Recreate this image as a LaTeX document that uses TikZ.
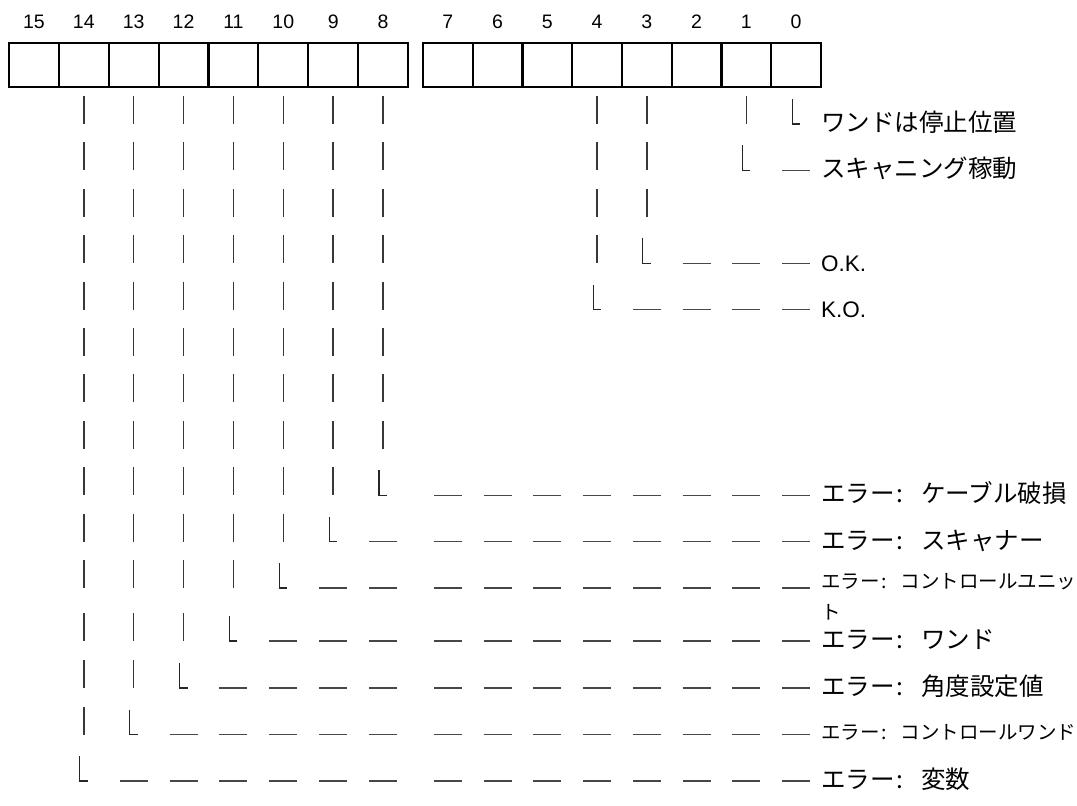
\documentclass[tikz,border=0pt]{standalone}
\usepackage{fontspec}
\setmainfont{Liberation Sans}
\newfontfamily\jp{Noto Sans CJK JP}
\pgfmathdeclarefunction{colx}{1}{%
  \pgfmathparse{(#1>7)*(9+49.875*(15.5-#1)) + (#1<8)*(423+49.75*(7.5-#1))}}
\newcommand{\tickrow}[2]{%
  \foreach \b in {#2}{\pgfmathsetmacro\xx{colx(\b)}\draw[tk] (\xx,#1-28) -- (\xx,#1);}}
\newcommand{\elbow}[2]{%
  \pgfmathsetmacro\xx{colx(#2)}\draw[lk] (\xx-4,#1-25) -- (\xx-4,#1) -- (\xx+4,#1);}
\newcommand{\dashrow}[2]{%
  \foreach \b in {#2}{\pgfmathsetmacro\xx{colx(\b)}\draw[dk] (\xx-14,#1) -- (\xx+14,#1);}}
\newcommand{\err}{エラー\kern0.08em:\kern0.72em}
\begin{document}
\begin{tikzpicture}[x=1pt,y=-1pt,
  cell/.style={draw=black,line width=2pt,minimum width=49.8pt,minimum height=44pt,inner sep=0pt,outer sep=0pt},
  num/.style={font=\fontsize{19.5}{22}\selectfont,inner sep=0pt,anchor=base},
  tk/.style={line width=1.4pt,draw=black!78},
  lk/.style={line width=1.2pt,draw=black!85},
  dk/.style={line width=1.4pt,draw=black!72},
  lab/.style={font=\jp\fontsize{24.5}{28}\selectfont,inner sep=0pt,anchor=base west},
  labs/.style={font=\jp\fontsize{19.5}{22}\selectfont,inner sep=0pt,anchor=base west},
  labl/.style={font=\fontsize{22.5}{26}\selectfont,inner sep=0pt,anchor=base west}]
\useasboundingbox (0,0) rectangle (1077,806);
% register cells and bit numbers
\foreach \b in {15,14,...,0}{
  \pgfmathsetmacro\xx{colx(\b)}
  \node[cell] (c\b) at (\xx,65.3) {};
  \node[num] (n\b) at (\xx,28.5) {\b};
}
% row 1
\tickrow{124}{14,13,...,8,4,3,1}\elbow{124}{0}
\node[lab] (l1) at (821,131.5) {ワンドは停止位置};
% row 2
\tickrow{170.4}{14,13,...,8,4,3}\elbow{170.4}{1}\dashrow{170.4}{0}
\node[lab] (l2) at (821,177.9) {スキャニング稼動};
% row 3
\tickrow{216.8}{14,13,...,8,4,3}
% row 4
\tickrow{263.2}{14,13,...,8,4}\elbow{263.2}{3}\dashrow{263.2}{2,1,0}
\node[labl] (l4) at (821,271.2) {O.K.};
% row 5
\tickrow{309.6}{14,13,...,8}\elbow{309.6}{4}\dashrow{309.6}{3,2,1,0}
\node[labl] (l5) at (821,317.6) {K.O.};
% rows 6-8
\tickrow{356}{14,13,...,8}
\tickrow{402.4}{14,13,...,8}
\tickrow{448.8}{14,13,...,8}
% row 9
\tickrow{495.2}{14,13,...,9}\elbow{495.2}{8}\dashrow{495.2}{7,6,...,0}
\node[lab] (l9) at (821,502.7) {\err ケーブル破損};
% row 10
\tickrow{541.6}{14,13,...,10}\elbow{541.6}{9}\dashrow{541.6}{8,7,...,0}
\node[lab] (l10) at (821,549.1) {\err スキャナー};
% row 11
\tickrow{588}{14,13,12,11}\elbow{588}{10}\dashrow{588}{9,8,...,0}
\node[labs] (l11) at (821,588.7) {\err コントロールユニッ};
\node[labs] (l11b) at (821,619.7) {ト};
% row 12
\tickrow{641}{14,13,12}\elbow{641}{11}\dashrow{641}{10,9,...,0}
\node[lab] (l12) at (821,648.5) {\err ワンド};
% row 13
\tickrow{688}{14,13}\elbow{688}{12}\dashrow{688}{11,10,...,0}
\node[lab] (l13) at (821,695.5) {\err 角度設定値};
% row 14
\tickrow{734.5}{14}\elbow{734.5}{13}\dashrow{734.5}{12,11,...,0}
\node[labs] (l14) at (821,739.5) {\err コントロールワンド};
% row 15
\elbow{781}{14}\dashrow{781}{13,12,...,0}
\node[lab] (l15) at (821,788.5) {\err 変数};
\end{tikzpicture}
\end{document}
